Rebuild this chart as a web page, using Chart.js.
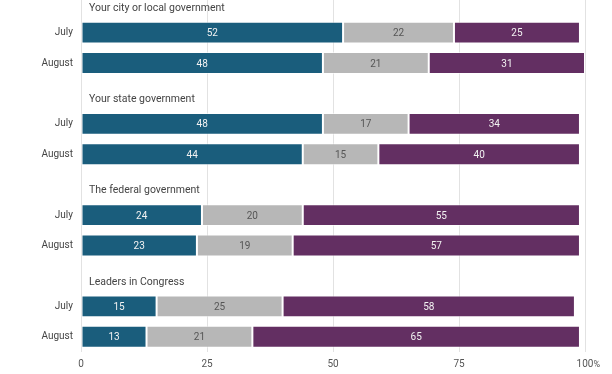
<!DOCTYPE html>
<html>
<head>
<meta charset="utf-8">
<script src="https://cdn.jsdelivr.net/npm/chart.js@4/dist/chart.umd.min.js"></script>
<style>
  html, body { margin: 0; padding: 0; background: #fff; }
  #marco { position: relative; width: 612px; height: 374px; overflow: hidden; }
  #lienzo { position: absolute; left: 0; top: -13px; width: 612px; height: 393px; }
</style>
</head>
<body>
<div id="marco"><div id="lienzo"><canvas id="grafica"></canvas></div></div>
<script>
// grupos y meses (cada grupo tiene una fila de titulo + julio + agosto)
const grupos = ['Your city or local government', 'Your state government', 'The federal government', 'Leaders in Congress'];
const meses = ['July', 'August'];

// valores por fila, en el orden grupo1-julio, grupo1-agosto, grupo2-julio...
const serieA = [52, 48, 48, 44, 24, 23, 15, 13];
const serieB = [22, 21, 17, 15, 20, 19, 25, 21];
const serieC = [25, 31, 34, 40, 55, 57, 58, 65];

const ticksX = ['0', '25', '50', '75', '100'];

const colores = ['#1a5d7c', '#b7b7b7', '#632f62'];
const coloresTexto = ['#f2f2f2', '#555555', '#f2f2f2'];

// filas del eje y: el titulo ocupa su propia fila vacia
const etiquetas = [];
const esTitulo = [];
grupos.forEach(g => {
    etiquetas.push(g); esTitulo.push(true);
    meses.forEach(m => { etiquetas.push(m); esTitulo.push(false); });
});

function filas(serie) {
    const out = [];
    let k = 0;
    esTitulo.forEach(t => { out.push(t ? null : serie[k++]); });
    return out;
}

const pluginTextos = {
    id: 'textos',
    afterDatasetsDraw(chart) {
        const ctx = chart.ctx;
        ctx.save();
        ctx.font = '10px Roboto';
        ctx.textAlign = 'center';
        ctx.textBaseline = 'middle';
        chart.data.datasets.forEach((ds, i) => {
            const meta = chart.getDatasetMeta(i);
            meta.data.forEach((el, j) => {
                if (ds.data[j] == null) return;
                const p = el.getProps(['x', 'y', 'base'], true);
                ctx.fillStyle = coloresTexto[i];
                ctx.fillText(String(ds.data[j]), (p.x + p.base) / 2, p.y + 1);
            });
        });
        // titulos de grupo
        const y = chart.scales.y;
        ctx.font = '10.5px Roboto';
        ctx.textAlign = 'left';
        ctx.fillStyle = '#444';
        esTitulo.forEach((t, i) => {
            if (t) ctx.fillText(etiquetas[i], chart.chartArea.left + 8, y.getPixelForValue(i) + 6);
        });
        // el % pequeno tras el 100
        const x = chart.scales.x;
        ctx.font = '10px Roboto';
        const w = ctx.measureText('100').width;
        ctx.font = '9px Roboto';
        ctx.fillStyle = '#555';
        ctx.textBaseline = 'middle';
        ctx.fillText('%', x.getPixelForValue(100) + w / 2, chart.chartArea.bottom + 12.5);
        ctx.restore();
    }
};

new Chart(document.getElementById('grafica'), {
    type: 'bar',
    data: {
        labels: etiquetas,
        datasets: [serieA, serieB, serieC].map((s, i) => ({
            label: 'Serie ' + (i + 1),
            data: filas(s),
            backgroundColor: colores[i],
            borderColor: 'rgba(255,255,255,0.55)',
            borderWidth: 1,
            borderSkipped: false
        }))
    },
    options: {
        indexAxis: 'y',
        responsive: true,
        maintainAspectRatio: false,
        animation: false,
        layout: { padding: { left: 0, right: 27, top: 0, bottom: 4 } },
        plugins: { legend: { display: false }, tooltip: { enabled: false } },
        scales: {
            x: {
                stacked: true,
                min: 0, max: 100,
                ticks: {
                    stepSize: 25,
                    padding: 6,
                    color: '#555',
                    font: { family: 'Roboto', size: 10 },
                    callback: (v) => ticksX[v / 25]
                },
                grid: { color: '#e2e2e2', drawTicks: false },
                border: { display: false }
            },
            y: {
                stacked: true,
                afterFit: (s) => { s.width = 81; s.paddingTop = 0; s.paddingBottom = 0; },
                ticks: {
                    padding: 8,
                    color: '#444',
                    font: { family: 'Roboto', size: 10 },
                    callback: (v, i) => esTitulo[i] ? '' : etiquetas[i]
                },
                grid: { display: false, drawTicks: false },
                border: { display: false }
            }
        }
    },
    plugins: [pluginTextos]
});
</script>
</body>
</html>
